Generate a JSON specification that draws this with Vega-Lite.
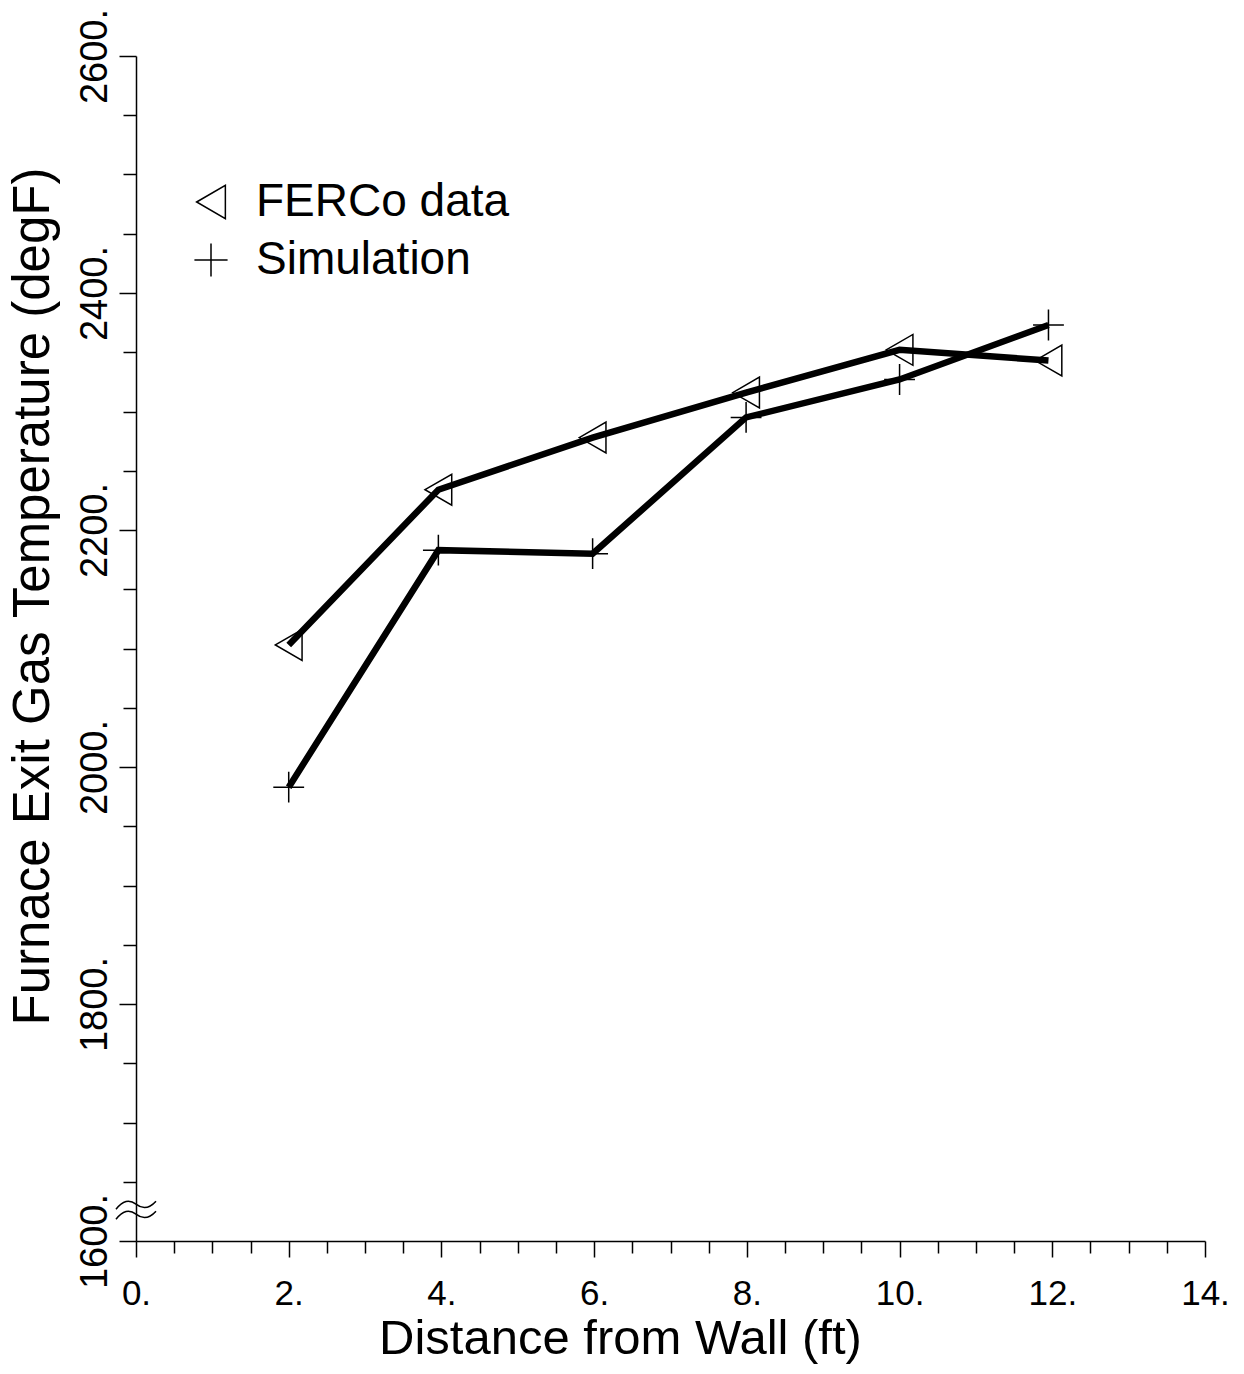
{
  "$schema": "https://vega.github.io/schema/vega-lite/v6.json",
  "width": 1069,
  "height": 1185,
  "autosize": {"type": "none"},
  "padding": {"left": 136, "top": 56, "right": 39, "bottom": 133},
  "background": "white",
  "config": {
    "view": {"stroke": null},
    "font": "Liberation Sans",
    "axis": {
      "grid": false,
      "domainColor": "black",
      "domainWidth": 1.5,
      "tickColor": "black",
      "tickWidth": 1.5,
      "labelColor": "black",
      "titleColor": "black",
      "labelFont": "Liberation Sans",
      "titleFont": "Liberation Sans",
      "titleFontWeight": "normal",
      "labelOverlap": false,
      "labelFlush": false
    }
  },
  "datasets": {
    "curves": [
      {"series": "FERCo data", "distance": 2, "temp": 2103},
      {"series": "FERCo data", "distance": 3.96, "temp": 2234},
      {"series": "FERCo data", "distance": 5.98, "temp": 2278},
      {"series": "FERCo data", "distance": 7.99, "temp": 2316},
      {"series": "FERCo data", "distance": 10, "temp": 2352},
      {"series": "FERCo data", "distance": 11.95, "temp": 2343},
      {"series": "Simulation", "distance": 2, "temp": 1983},
      {"series": "Simulation", "distance": 3.96, "temp": 2183},
      {"series": "Simulation", "distance": 5.98, "temp": 2180},
      {"series": "Simulation", "distance": 7.99, "temp": 2295},
      {"series": "Simulation", "distance": 10, "temp": 2327},
      {"series": "Simulation", "distance": 11.95, "temp": 2373}
    ],
    "axisbreak": [
      {"distance": 0, "temp": 1626}
    ]
  },
  "encoding": {
    "x": {
      "field": "distance",
      "type": "quantitative",
      "scale": {"domain": [0, 14], "nice": false, "zero": false},
      "axis": {
        "orient": "bottom",
        "values": [0, 0.5, 1, 1.5, 2, 2.5, 3, 3.5, 4, 4.5, 5, 5.5, 6, 6.5, 7, 7.5, 8, 8.5, 9, 9.5, 10, 10.5, 11, 11.5, 12, 12.5, 13, 13.5, 14],
        "labelExpr": "datum.value % 2 === 0 ? datum.value + '.' : ''",
        "tickSize": {"condition": {"test": "datum.value % 2 === 0", "value": 16}, "value": 12},
        "labelFontSize": 35,
        "labelPadding": 19,
        "labelAlign": "center",
        "labelBaseline": "top",
        "title": "Distance from Wall (ft)",
        "titleFontSize": 49,
        "titleX": 484,
        "titleY": 97,
        "titleAlign": "center",
        "titleBaseline": "middle"
      }
    },
    "y": {
      "field": "temp",
      "type": "quantitative",
      "scale": {"domain": [1600, 2600], "nice": false, "zero": false},
      "axis": {
        "orient": "left",
        "values": [1600, 1650, 1700, 1750, 1800, 1850, 1900, 1950, 2000, 2050, 2100, 2150, 2200, 2250, 2300, 2350, 2400, 2450, 2500, 2550, 2600],
        "labelExpr": "datum.value % 200 === 0 ? datum.value + '.' : ''",
        "tickSize": {"condition": {"test": "datum.value % 200 === 0", "value": 17}, "value": 13},
        "labelFontSize": 38,
        "labelAngle": 270,
        "labelAlign": "center",
        "labelBaseline": "bottom",
        "labelPadding": 5,
        "title": "Furnace Exit Gas Temperature (degF)",
        "titleFontSize": 51,
        "titleAngle": 270,
        "titleX": -103,
        "titleY": 540,
        "titleAlign": "center",
        "titleBaseline": "middle"
      }
    }
  },
  "layer": [
    {
      "data": {"name": "curves"},
      "mark": {"type": "line", "color": "black", "strokeWidth": 6.5},
      "encoding": {"detail": {"field": "series", "type": "nominal"}}
    },
    {
      "data": {"name": "curves"},
      "mark": {"type": "point", "filled": false, "color": "black", "strokeWidth": 1.5, "size": 950, "opacity": 1},
      "encoding": {
        "shape": {
          "field": "series",
          "type": "nominal",
          "scale": {"domain": ["FERCo data", "Simulation"], "range": ["triangle-left", "M-1,0H1M0,-1V1"]},
          "legend": {
            "orient": "none",
            "legendX": 52,
            "legendY": 123,
            "title": null,
            "padding": 0,
            "labelFontSize": 46,
            "labelFont": "Liberation Sans",
            "labelColor": "black",
            "labelLimit": 0,
            "symbolSize": 1100,
            "symbolStrokeWidth": 1.5,
            "symbolStrokeColor": "black",
            "symbolFillColor": "transparent",
            "rowPadding": 12,
            "labelOffset": 22
          }
        }
      }
    },
    {
      "data": {"name": "axisbreak"},
      "mark": {
        "type": "point",
        "filled": false,
        "color": "black",
        "strokeWidth": 1.5,
        "opacity": 1,
        "size": 1600,
        "shape": "M-1,-0.05 Q-0.5,-0.7 0,-0.3 T1,-0.45 M-1,0.45 Q-0.5,-0.2 0,0.2 T1,0.05"
      }
    }
  ]
}
